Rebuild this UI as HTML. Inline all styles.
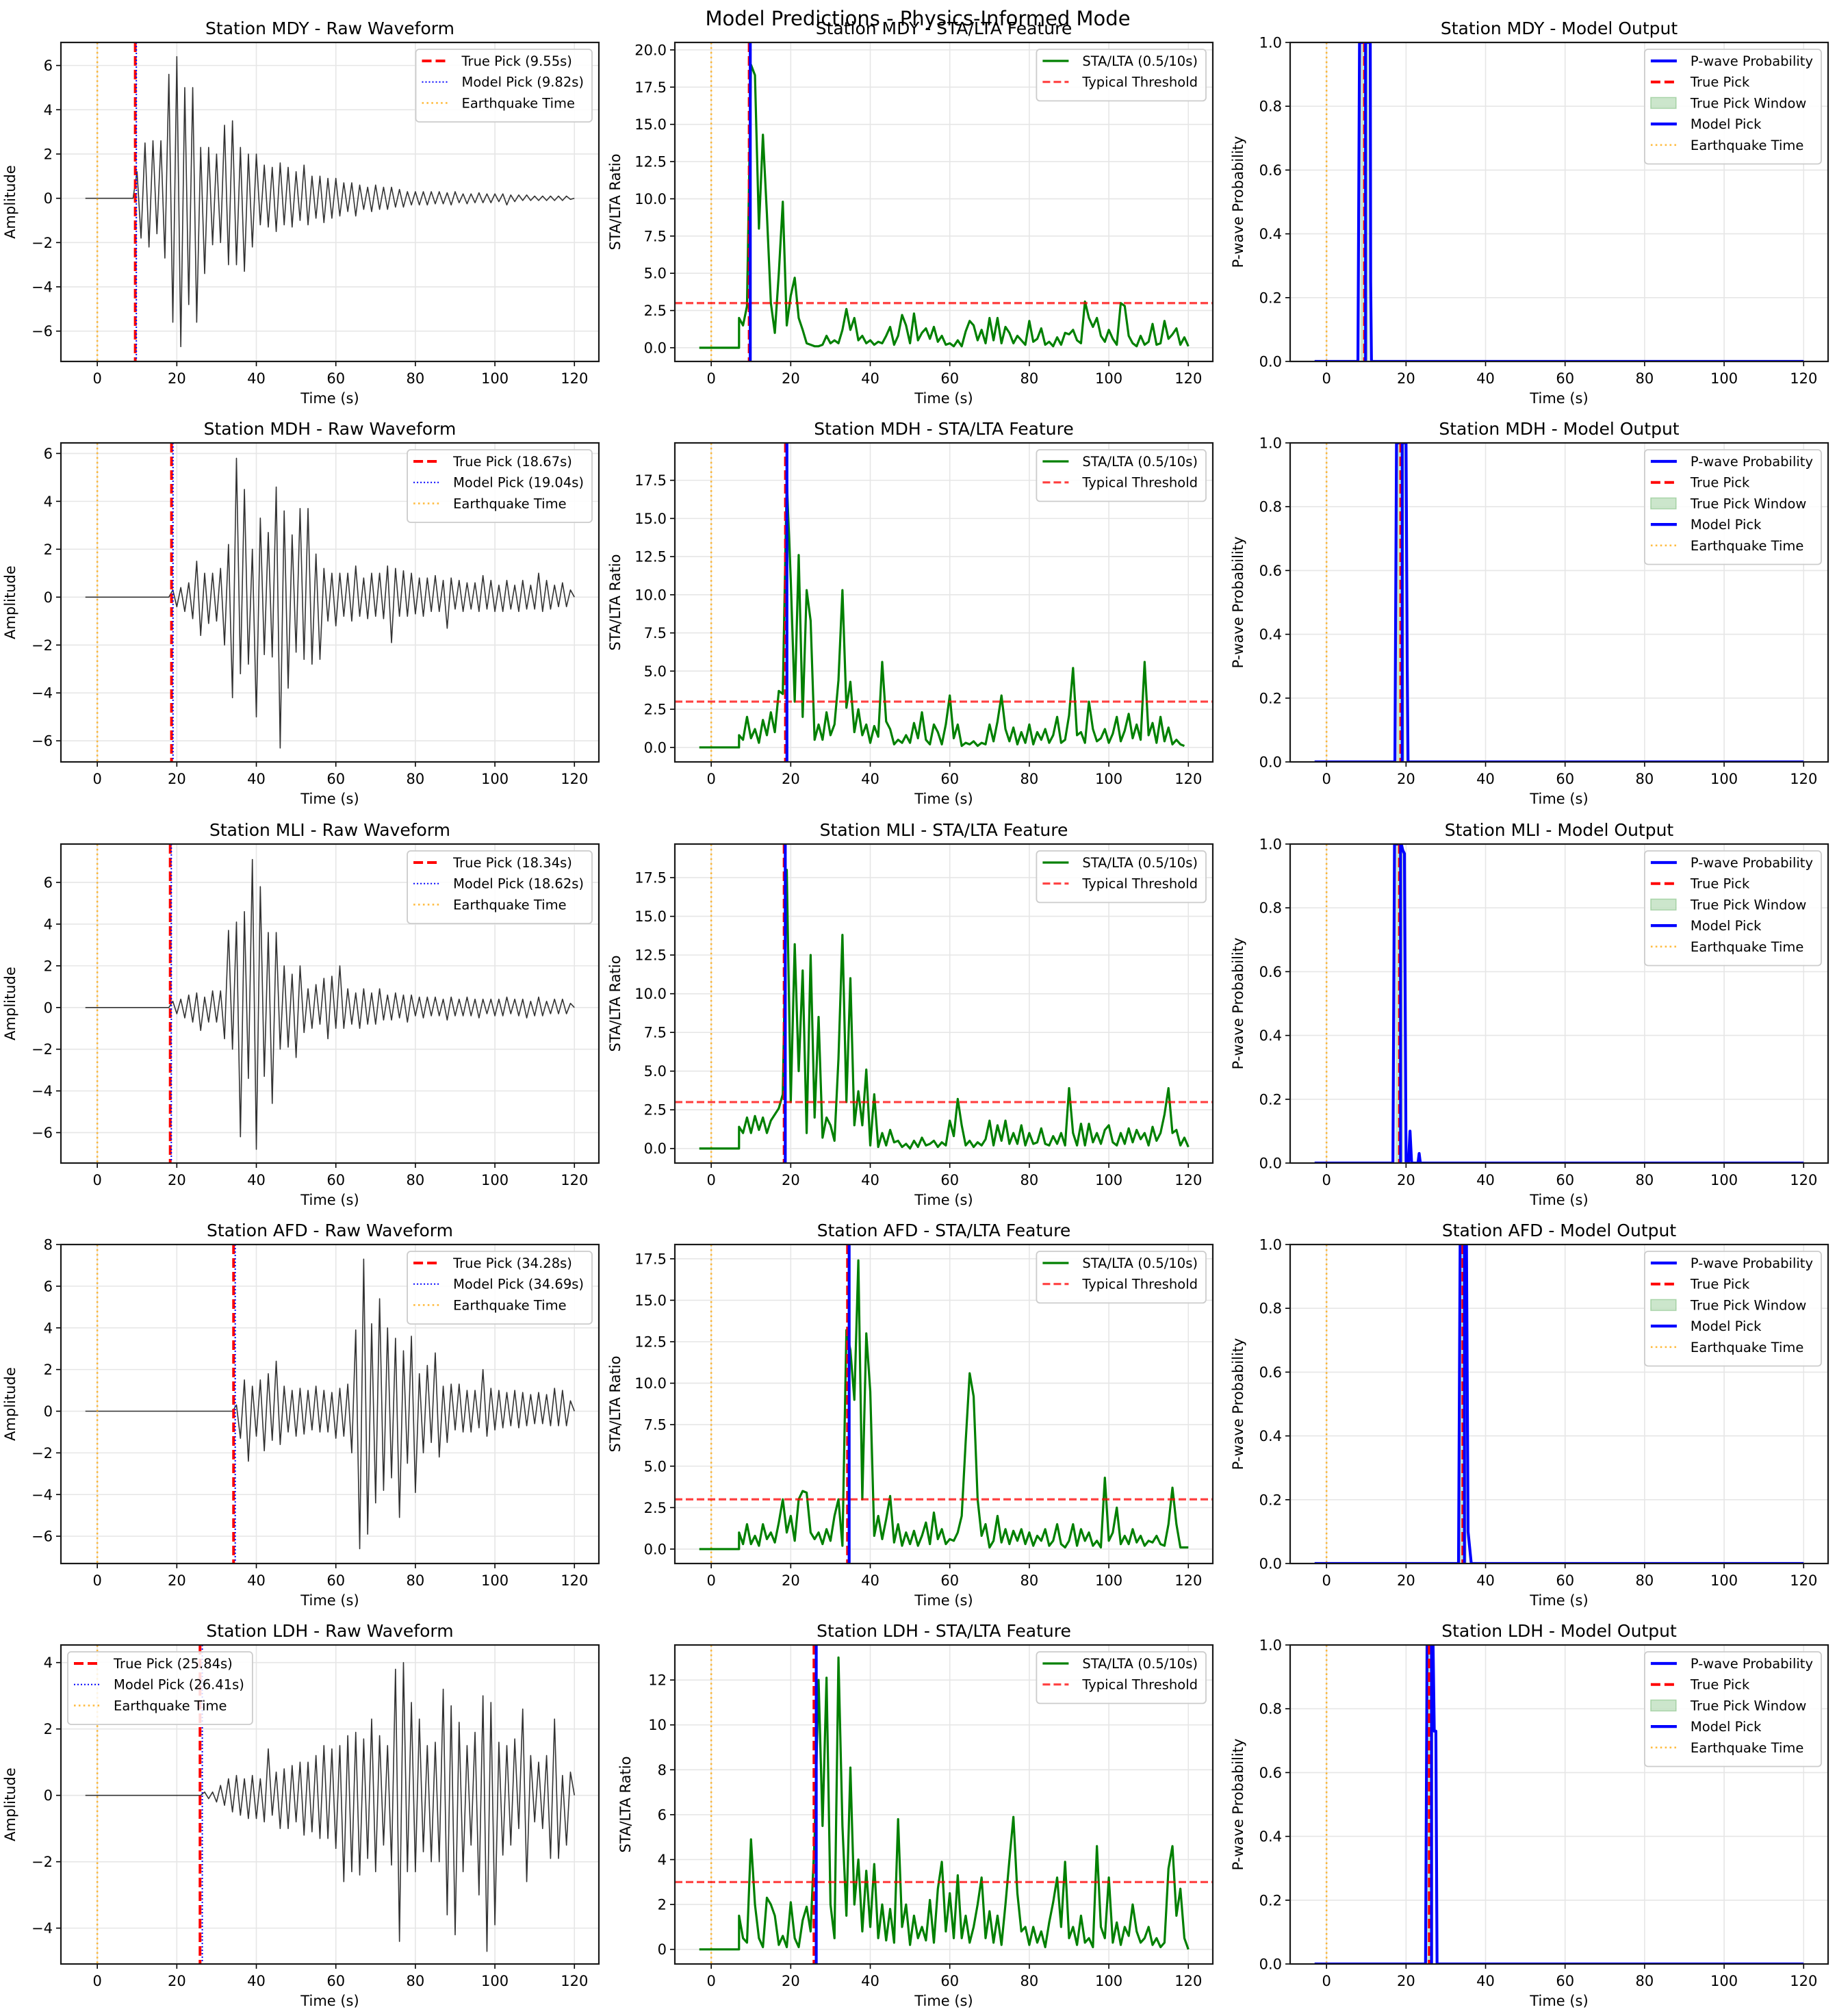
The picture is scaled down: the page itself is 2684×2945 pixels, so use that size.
<!DOCTYPE html>
<html><head><meta charset="utf-8"><title>Model Predictions - Physics-Informed Mode</title>
<style>
html,body{margin:0;padding:0;background:#fff;}
svg{display:block;font-family:"DejaVu Sans","Liberation Sans",sans-serif;}
</style></head>
<body>
<svg id="fig" xmlns="http://www.w3.org/2000/svg" width="2684" height="2945" viewBox="0 0 2684 2945">
<rect x="0" y="0" width="2684" height="2945" fill="#ffffff"/>
<text x="1341" y="37" font-size="29" text-anchor="middle" fill="#000">Model Predictions - Physics-Informed Mode</text>
</svg>
<script>
// ---------- data ----------
const stations = ["MDY","MDH","MLI","AFD","LDH"];
const truePicks = [9.55, 18.67, 18.34, 34.28, 25.84];
const modelPicks = [9.82, 19.04, 18.62, 34.69, 26.41];
const waveStarts = [10, 19, 19, 35, 27];
const mdyWave = [1.2,-1.8,2.5,-2.2,2.6,-1.6,2.6,-2.7,5.6,-5.6,6.4,-6.7,5.0,-4.8,5.0,-5.6,2.3,-3.4,2.3,-2.1,2.0,-2.0,3.3,-3.0,3.5,-3.0,2.3,-3.3,2.0,-2.2,2.0,-1.2,1.5,-1.3,1.4,-1.5,1.6,-1.2,1.4,-1.3,1.2,-1.0,1.5,-1.2,1.0,-0.9,1.0,-1.1,0.9,-0.9,0.9,-0.8,0.7,-0.6,0.7,-0.8,0.6,-0.5,0.5,-0.6,0.6,-0.5,0.5,-0.5,0.5,-0.4,0.4,-0.4,0.3,-0.3,0.3,-0.3,0.3,-0.3,0.3,-0.25,0.3,-0.25,0.25,-0.3,0.3,-0.2,0.2,-0.25,0.2,-0.2,0.25,-0.2,0.2,-0.2,0.2,-0.15,0.2,-0.3,0.15,-0.15,0.15,-0.1,0.15,-0.1,0.1,-0.1,0.1,-0.1,0.1,-0.1,0.1,-0.1,0.1,-0.05,0.0];
const mdhWave = [0.3,-0.4,0.4,-0.6,0.6,-0.9,1.5,-1.6,1.0,-1.1,1.0,-1.0,1.2,-2.0,2.2,-4.2,5.8,-3.2,4.5,-2.8,2.0,-5.0,3.3,-2.4,2.7,-2.5,4.6,-6.3,3.6,-3.8,2.6,-2.3,3.7,-2.6,3.7,-2.8,1.8,-2.6,1.2,-1.0,1.0,-1.2,1.0,-0.8,1.0,-1.0,1.3,-0.8,0.8,-0.9,1.0,-0.8,1.0,-0.9,1.3,-1.9,1.2,-0.8,1.1,-0.8,1.0,-0.7,0.8,-0.8,0.8,-0.6,0.9,-0.6,0.7,-1.3,0.8,-0.5,0.7,-0.6,0.6,-0.5,0.6,-0.6,0.9,-0.5,0.7,-0.6,0.5,-0.6,0.7,-0.5,0.5,-0.6,0.7,-0.5,0.5,-0.5,1.0,-0.6,0.7,-0.5,0.5,-0.4,0.6,-0.4,0.3,0.0];
const mliWave = [0.3,-0.3,0.4,-0.5,0.6,-0.7,0.7,-1.1,0.5,-0.7,0.8,-0.7,0.8,-1.5,3.7,-2.0,4.1,-6.2,4.6,-3.4,7.1,-6.8,5.8,-3.3,3.6,-4.6,3.6,-2.0,2.0,-1.9,1.6,-2.4,2.0,-1.2,0.9,-1.0,1.1,-0.8,1.4,-1.5,1.5,-1.0,2.0,-1.0,0.9,-0.8,0.7,-1.0,0.9,-0.8,0.7,-0.8,0.9,-0.6,0.6,-0.6,0.7,-0.5,0.6,-0.7,0.6,-0.4,0.5,-0.5,0.5,-0.4,0.5,-0.4,0.4,-0.6,0.5,-0.4,0.4,-0.4,0.5,-0.4,0.4,-0.5,0.4,-0.3,0.4,-0.4,0.4,-0.4,0.5,-0.3,0.4,-0.4,0.4,-0.5,0.3,-0.4,0.5,-0.4,0.3,-0.3,0.4,-0.3,0.4,-0.3,0.2,0.0];
const afdWave = [0.3,-1.3,1.5,-2.4,1.2,-1.2,1.5,-1.9,1.8,-1.4,2.4,-1.6,1.2,-1.0,1.0,-1.2,1.1,-1.1,1.0,-0.9,1.2,-1.0,1.0,-1.0,0.9,-1.3,1.1,-1.2,1.3,-2.0,3.9,-6.6,7.3,-5.9,4.2,-4.4,5.4,-3.8,4.0,-3.2,3.5,-5.1,2.9,-2.5,3.6,-3.9,1.8,-2.0,2.2,-1.5,2.8,-2.2,1.2,-1.5,1.3,-0.9,1.3,-1.0,1.0,-1.0,1.0,-0.8,2.0,-1.2,1.1,-0.9,1.0,-0.8,0.9,-0.7,1.0,-0.8,0.9,-0.7,0.8,-0.6,0.9,-0.6,0.8,-0.7,1.1,-0.7,1.0,-0.7,0.5,0.0];
const ldhWave = [0.1,-0.1,0.1,-0.2,0.3,-0.3,0.5,-0.5,0.6,-0.6,0.5,-0.7,0.6,-0.7,0.5,-0.8,1.4,-0.6,0.7,-1.0,0.8,-1.0,0.9,-0.8,1.0,-1.2,1.0,-1.1,1.2,-1.3,1.5,-1.3,1.4,-1.6,1.5,-2.6,1.8,-2.3,1.9,-2.4,1.7,-1.9,2.3,-2.3,1.8,-1.5,1.5,-2.1,3.8,-4.4,4.0,-2.3,2.8,-2.3,2.3,-1.7,1.5,-2.0,1.6,-2.0,3.2,-3.6,2.7,-4.2,2.2,-2.3,1.5,-1.5,1.9,-3.0,3.0,-4.7,2.8,-3.9,1.6,-1.8,1.5,-1.5,1.7,-1.0,2.6,-2.6,1.2,-0.8,1.0,-1.0,1.2,-1.9,2.3,-1.9,0.6,-1.5,0.7,0.0];
const waves = [mdyWave, mdhWave, mliWave, afdWave, ldhWave];

const staStart = 7;
const mdySta = [2.0,1.5,2.8,19.0,18.3,8.0,14.3,9.0,3.0,1.0,5.0,9.8,1.5,3.5,4.7,2.0,1.2,0.3,0.2,0.1,0.1,0.2,0.8,0.3,0.5,0.3,1.2,2.6,1.2,2.0,0.5,0.8,0.3,0.5,0.2,0.4,0.3,0.8,1.4,0.2,0.8,2.2,1.5,0.3,2.3,0.5,1.0,1.3,0.6,1.4,0.4,0.8,0.2,0.3,0.1,0.5,0.1,1.1,1.8,1.5,0.5,1.2,0.3,2.0,0.5,2.0,0.3,1.4,1.0,0.3,0.8,0.5,0.2,1.8,0.4,0.6,1.3,0.2,0.4,0.1,0.7,0.2,1.0,0.9,1.2,0.5,0.3,3.1,2.0,1.4,2.0,0.8,0.4,1.2,0.6,0.2,3.0,2.8,0.8,0.3,0.1,0.8,0.2,0.4,1.6,0.2,0.3,1.8,0.6,0.9,1.3,0.2,0.7,0.1];
const mdhSta = [0.8,0.5,2.0,0.6,1.2,0.3,1.8,0.8,2.3,1.0,3.7,3.5,17.6,11.0,3.0,12.6,2.0,10.3,8.3,0.5,1.5,0.5,2.3,0.8,1.5,4.4,10.3,2.6,4.3,1.0,2.5,0.8,1.5,0.3,1.4,0.7,5.6,1.7,1.2,0.2,0.5,0.3,0.8,0.3,1.6,0.6,2.3,0.5,0.2,1.5,1.0,0.2,1.5,3.4,0.6,1.5,0.1,0.3,0.2,0.4,0.1,0.3,0.2,1.5,0.4,1.7,3.4,1.2,0.4,1.3,0.2,1.0,0.3,1.5,0.2,1.0,0.5,1.2,0.3,0.8,2.0,0.3,0.5,2.1,5.2,0.8,1.0,0.3,3.0,1.2,0.4,0.6,1.2,0.3,0.9,2.0,0.4,1.1,2.2,0.6,1.5,0.5,5.6,0.8,1.6,0.3,2.0,0.4,1.3,0.2,0.5,0.2,0.1];
const mliSta = [1.4,1.0,2.0,1.0,2.1,1.2,2.0,1.0,1.8,2.2,2.6,3.5,18.0,3.0,13.2,5.0,11.5,1.0,12.5,2.0,8.5,0.7,2.0,1.5,0.5,5.8,13.8,3.0,11.0,1.5,3.7,1.5,5.1,0.2,3.5,0.1,1.0,0.2,1.2,0.4,0.5,0.1,0.3,0.0,0.5,0.1,0.7,0.2,0.3,0.5,0.1,0.4,0.2,1.8,0.8,3.2,1.5,0.2,0.5,0.1,0.4,0.2,0.6,1.8,0.2,1.5,0.5,1.8,0.3,1.0,0.3,1.5,0.2,1.0,0.3,0.4,1.3,0.3,0.2,0.8,0.3,1.0,0.2,3.9,1.0,0.2,1.6,0.2,1.6,0.4,1.0,0.3,1.2,1.5,0.4,0.2,1.0,0.3,1.3,0.4,1.2,0.6,1.0,0.2,1.4,0.5,1.0,2.2,3.9,1.0,1.2,0.2,0.7,0.1];
const afdSta = [1.0,0.3,1.5,0.3,0.8,0.2,1.5,0.6,1.0,0.4,1.6,3.0,1.0,2.0,0.5,3.0,3.5,3.4,1.0,0.6,1.0,0.3,1.2,0.5,2.0,3.0,0.2,13.2,12.0,9.0,17.4,3.0,13.0,9.5,0.8,2.0,0.6,1.8,3.2,0.4,1.5,0.2,1.0,0.3,1.1,0.2,0.8,1.6,0.3,2.2,0.6,1.2,0.3,0.6,0.5,1.0,2.0,6.5,10.6,9.2,3.0,0.8,1.5,0.1,0.5,2.0,0.4,1.2,0.3,1.1,0.5,1.2,0.3,1.0,0.2,0.8,0.5,1.2,0.2,0.5,1.5,0.3,0.1,0.5,1.5,0.2,1.2,0.5,1.0,0.2,0.5,0.1,4.3,0.5,1.0,2.5,0.3,0.8,0.3,1.2,0.4,0.8,0.2,0.5,0.4,0.8,0.3,0.2,1.5,3.7,1.5,0.1,0.1,0.1];
const ldhSta = [1.5,0.5,0.3,4.9,2.0,0.5,0.1,2.3,2.0,1.5,0.2,0.6,0.1,2.1,0.5,0.1,1.3,1.9,0.8,5.0,12.0,5.5,12.1,2.0,0.5,13.0,5.5,1.5,8.1,2.0,4.0,0.8,3.5,1.0,3.8,0.5,2.0,0.4,1.8,0.3,5.8,1.0,2.0,0.2,1.5,0.5,1.0,0.4,2.2,0.3,2.7,3.9,0.8,2.5,0.5,3.3,0.5,1.5,0.3,1.0,2.0,3.2,0.5,1.7,0.3,1.5,0.2,2.0,4.0,5.9,2.5,0.8,1.0,0.2,1.0,0.3,0.8,0.1,1.2,2.1,3.2,1.0,3.9,0.5,1.0,0.2,1.5,0.3,0.5,0.1,4.6,1.0,0.5,3.2,0.3,1.2,0.2,1.0,0.6,2.0,0.8,0.3,0.5,1.0,0.2,0.5,0.1,0.3,3.6,4.6,1.5,2.7,0.5,0.0];
const staSeries = [mdySta, mdhSta, mliSta, afdSta, ldhSta];
const threshold = 3.0;

const mdyProbT = [-3,7.9,8.3,10.7,11.0,11.1,11.3,120];
const mdyProbV = [0,0,1,1,1,0.25,0,0];
const mdhProbT = [-3,17.2,17.6,20.0,20.3,20.5,120];
const mdhProbV = [0,0,1,1,0.3,0,0];
const mliProbT = [-3,16.7,17.1,18.8,19.2,19.6,20.0,20.6,21.0,21.4,23.0,23.3,23.6,120];
const mliProbV = [0,0,1,1,0.98,0.97,0,0,0.1,0,0,0.03,0,0];
const afdProbT = [-3,33.2,33.6,35.2,35.6,36.0,36.4,120];
const afdProbV = [0,0,1,1,0.1,0.05,0,0];
const ldhProbT = [-3,24.9,25.3,26.8,27.1,27.5,27.8,120];
const ldhProbV = [0,0,1,1,0.73,0.73,0,0];
const probTimes = [mdyProbT, mdhProbT, mliProbT, afdProbT, ldhProbT];
const probVals = [mdyProbV, mdhProbV, mliProbV, afdProbV, ldhProbV];

const waveYLims = [[-7.37,7.04],[-6.88,6.44],[-7.46,7.84],[-7.31,8.0],[-5.08,4.53]];
const waveYTicks = [[-6,-4,-2,0,2,4,6],[-6,-4,-2,0,2,4,6],[-6,-4,-2,0,2,4,6],[-6,-4,-2,0,2,4,6,8],[-4,-2,0,2,4]];
const staYLims = [[-0.92,20.5],[-0.95,19.95],[-0.94,19.67],[-0.87,18.36],[-0.65,13.56]];
const staYTicks = [[0,2.5,5,7.5,10,12.5,15,17.5,20],[0,2.5,5,7.5,10,12.5,15,17.5],[0,2.5,5,7.5,10,12.5,15,17.5],[0,2.5,5,7.5,10,12.5,15,17.5],[0,2,4,6,8,10,12]];
const probYTicks = [0,0.2,0.4,0.6,0.8,1.0];
const xTicks = [0,20,40,60,80,100,120];

// ---------- layout ----------
const NS = "http://www.w3.org/2000/svg";
const svg = document.getElementById("fig");
const colLeft = [89, 986, 1885];
const colW = 786;
const rowTop = [62, 647, 1233, 1818, 2403];
const rowH = 466;
const XMIN = -9.15, XMAX = 126.15;

function mk(tag, attrs, parent){
  const e = document.createElementNS(NS, tag);
  for (const k in attrs) e.setAttribute(k, attrs[k]);
  (parent||svg).appendChild(e);
  return e;
}
function fmtMinus(s){ return String(s).replace("-", "\u2212"); }

function makeAxes(r, c, ylim, yticks, yfmt, title, ylabel, ylabelOff){
  const L = colLeft[c], T = rowTop[r], W = colW, H = rowH;
  const g = mk("g", {});
  
  
  const xs = t => L + (t - XMIN) / (XMAX - XMIN) * W;
  const ys = v => T + H - (v - ylim[0]) / (ylim[1] - ylim[0]) * H;
  // clip
  const cid = "clip" + r + "_" + c;
  const cp = mk("clipPath", {id: cid}, g);
  mk("rect", {x: L, y: T, width: W, height: H}, cp);
  // grid
  const grid = mk("g", {stroke: "#e6e6e6", "stroke-width": 1.6}, g);
  
  
  xTicks.forEach(t => mk("line", {x1: xs(t), x2: xs(t), y1: T, y2: T + H}, grid));
  yticks.forEach(v => mk("line", {x1: L, x2: L + W, y1: ys(v), y2: ys(v)}, grid));
  const plot = mk("g", {"clip-path": "url(#" + cid + ")"}, g);
  
  
  // ticks & labels
  const ax = mk("g", {}, g);
  
  
  xTicks.forEach(t => {
    mk("line", {x1: xs(t), x2: xs(t), y1: T + H, y2: T + H + 7, stroke: "#000", "stroke-width": 1.6}, ax);
    const tx = mk("text", {x: xs(t), y: T + H + 32, "font-size": 21, "text-anchor": "middle", fill: "#000"}, ax);
    tx.textContent = t;
    
    
  });
  const xl = mk("text", {x: L + W / 2, y: T + H + 61, "font-size": 21, "text-anchor": "middle", fill: "#000"}, ax);
  xl.textContent = "Time (s)";
  
  
  const ay = mk("g", {}, g);
  
  
  yticks.forEach(v => {
    mk("line", {x1: L - 7, x2: L, y1: ys(v), y2: ys(v), stroke: "#000", "stroke-width": 1.6}, ay);
    const tx = mk("text", {x: L - 12, y: ys(v) + 7.5, "font-size": 21, "text-anchor": "end", fill: "#000"}, ay);
    tx.textContent = fmtMinus(yfmt(v));
    
    
  });
  const yl = mk("text", {x: 0, y: 0, "font-size": 21, "text-anchor": "middle", fill: "#000",
    transform: "translate(" + (L - ylabelOff) + "," + (T + H / 2) + ") rotate(-90)"}, ay);
  yl.textContent = ylabel;
  
  
  const ti = mk("text", {x: L + W / 2, y: T - 12, "font-size": 25, "text-anchor": "middle", fill: "#000"}, g);
  ti.textContent = title;
  
  
  return {g, plot, xs, ys, L, T, W, H};
}
function frame(a){
  const f = mk("rect", {x: a.L, y: a.T, width: a.W, height: a.H, fill: "none", stroke: "#1a1a1a", "stroke-width": 2.2}, a.g);
  
  
}
function vline(a, t, attrs, name){
  const l = mk("line", Object.assign({x1: a.xs(t), x2: a.xs(t), y1: a.T, y2: a.T + a.H, fill: "none"}, attrs), a.plot);
  
  
  return l;
}
function pathFrom(a, ts, vs){
  let d = "";
  for (let i = 0; i < ts.length; i++) d += (i ? "L" : "M") + a.xs(ts[i]).toFixed(2) + "," + a.ys(vs[i]).toFixed(2);
  return d;
}
const STY = {
  truePick: {stroke: "#ff0000", "stroke-width": 4, "stroke-dasharray": "14 6"},
  modelDot: {stroke: "#0000ff", "stroke-width": 2, "stroke-dasharray": "2 3"},
  quake: {stroke: "#ffa500", "stroke-opacity": 0.75, "stroke-width": 2.6, "stroke-dasharray": "2.6 4.3"},
  sta: {stroke: "#008000", "stroke-width": 3.2},
  thresh: {stroke: "#ff0000", "stroke-opacity": 0.75, "stroke-width": 3.2, "stroke-dasharray": "11 5"},
  prob: {stroke: "#0000ff", "stroke-width": 4.2},
  modelSolid: {stroke: "#0000ff", "stroke-width": 4.2}
};
function legend(a, entries, right){
  const lg = mk("g", {}, a.g);
  
  
  const box = mk("rect", {rx: 5, ry: 5, fill: "#ffffff", "fill-opacity": 0.85, stroke: "#cccccc", "stroke-width": 1.8}, lg);
  let maxW = 0; const texts = [];
  entries.forEach((e, i) => {
    const t = mk("text", {x: 0, y: 0, "font-size": 19.5, fill: "#000"}, lg);
    t.textContent = e.label;
    
    
    texts.push(t);
    maxW = Math.max(maxW, t.getComputedTextLength());
  });
  const w = 67 + maxW + 12, h = 14 + entries.length * 30.7;
  const x0 = right ? a.L + a.W - 10 - w : a.L + 10, y0 = a.T + 10;
  box.setAttribute("x", x0); box.setAttribute("y", y0); box.setAttribute("width", w); box.setAttribute("height", h);
  entries.forEach((e, i) => {
    const cy = y0 + 17 + i * 30.7;
    if (e.patch) {
      const p = mk("rect", {x: x0 + 9, y: cy - 8, width: 37, height: 16, fill: "#008000", "fill-opacity": 0.2, stroke: "#008000", "stroke-opacity": 0.25, "stroke-width": 1.5}, lg);
      
      
    } else {
      const s = mk("line", Object.assign({x1: x0 + 9, x2: x0 + 47, y1: cy, y2: cy}, e.style), lg);
      
      
    }
    texts[i].setAttribute("x", x0 + 67);
    texts[i].setAttribute("y", cy + 7);
  });
}

for (let r = 0; r < 5; r++) {
  const name = stations[r];
  // ---- waveform ----
  let a = makeAxes(r, 0, waveYLims[r], waveYTicks[r], v => String(v), "Station " + name + " - Raw Waveform", "Amplitude", 67);
  const wts = [-3], wvs = [0];
  wts.push(waveStarts[r] - 1); wvs.push(0);
  waves[r].forEach((v, i) => { wts.push(waveStarts[r] + i); wvs.push(v); });
  const wp = mk("path", {d: pathFrom(a, wts, wvs), fill: "none", stroke: "#333333", "stroke-width": 1.6, "stroke-linejoin": "round"}, a.plot);
  
  
  vline(a, 0, STY.quake, 'earthquake-time-line');
  vline(a, truePicks[r], STY.truePick, 'true-pick-line');
  vline(a, modelPicks[r], STY.modelDot, 'model-pick-line');
  frame(a);
  legend(a, [
    {label: "True Pick (" + truePicks[r].toFixed(2) + "s)", style: STY.truePick},
    {label: "Model Pick (" + modelPicks[r].toFixed(2) + "s)", style: STY.modelDot},
    {label: "Earthquake Time", style: STY.quake}
  ], r !== 4);

  // ---- STA/LTA ----
  a = makeAxes(r, 1, staYLims[r], staYTicks[r], v => (r === 4 ? String(v) : v.toFixed(1)), "Station " + name + " - STA/LTA Feature", "STA/LTA Ratio", r === 4 ? 65 : 80);
  const sts = [-3, staStart - 0.01], svs = [0, 0];
  staSeries[r].forEach((v, i) => { sts.push(staStart + i); svs.push(v); });
  vline(a, 0, STY.quake, 'earthquake-time-line');
  const sp = mk("path", {d: pathFrom(a, sts, svs), fill: "none", stroke: "#008000", "stroke-width": 3.2, "stroke-linejoin": "round"}, a.plot);
  
  
  const th = mk("line", Object.assign({x1: a.L, x2: a.L + a.W, y1: a.ys(threshold), y2: a.ys(threshold)}, STY.thresh), a.plot);
  
  
  vline(a, truePicks[r], STY.truePick, 'true-pick-line');
  vline(a, modelPicks[r], STY.modelSolid, 'model-pick-line');
  frame(a);
  legend(a, [
    {label: "STA/LTA (0.5/10s)", style: STY.sta},
    {label: "Typical Threshold", style: STY.thresh}
  ], true);

  // ---- Model output ----
  a = makeAxes(r, 2, [0, 1], probYTicks, v => v.toFixed(1), "Station " + name + " - Model Output", "P-wave Probability", 69);
  const win = mk("rect", {x: a.xs(truePicks[r] - 1), y: a.T, width: a.xs(truePicks[r] + 1) - a.xs(truePicks[r] - 1), height: a.H, fill: "#008000", "fill-opacity": 0.2}, a.plot);
  
  
  vline(a, 0, STY.quake, 'earthquake-time-line');
  const pp = mk("path", {d: pathFrom(a, probTimes[r], probVals[r]), fill: "none", stroke: "#0000ff", "stroke-width": 4.2, "stroke-linejoin": "round"}, a.plot);
  
  
  vline(a, truePicks[r], STY.truePick, 'true-pick-line');
  vline(a, modelPicks[r], STY.modelSolid, 'model-pick-line');
  frame(a);
  legend(a, [
    {label: "P-wave Probability", style: STY.prob},
    {label: "True Pick", style: STY.truePick},
    {label: "True Pick Window", patch: true},
    {label: "Model Pick", style: STY.modelSolid},
    {label: "Earthquake Time", style: STY.quake}
  ], true);
}
</script>
</body></html>
